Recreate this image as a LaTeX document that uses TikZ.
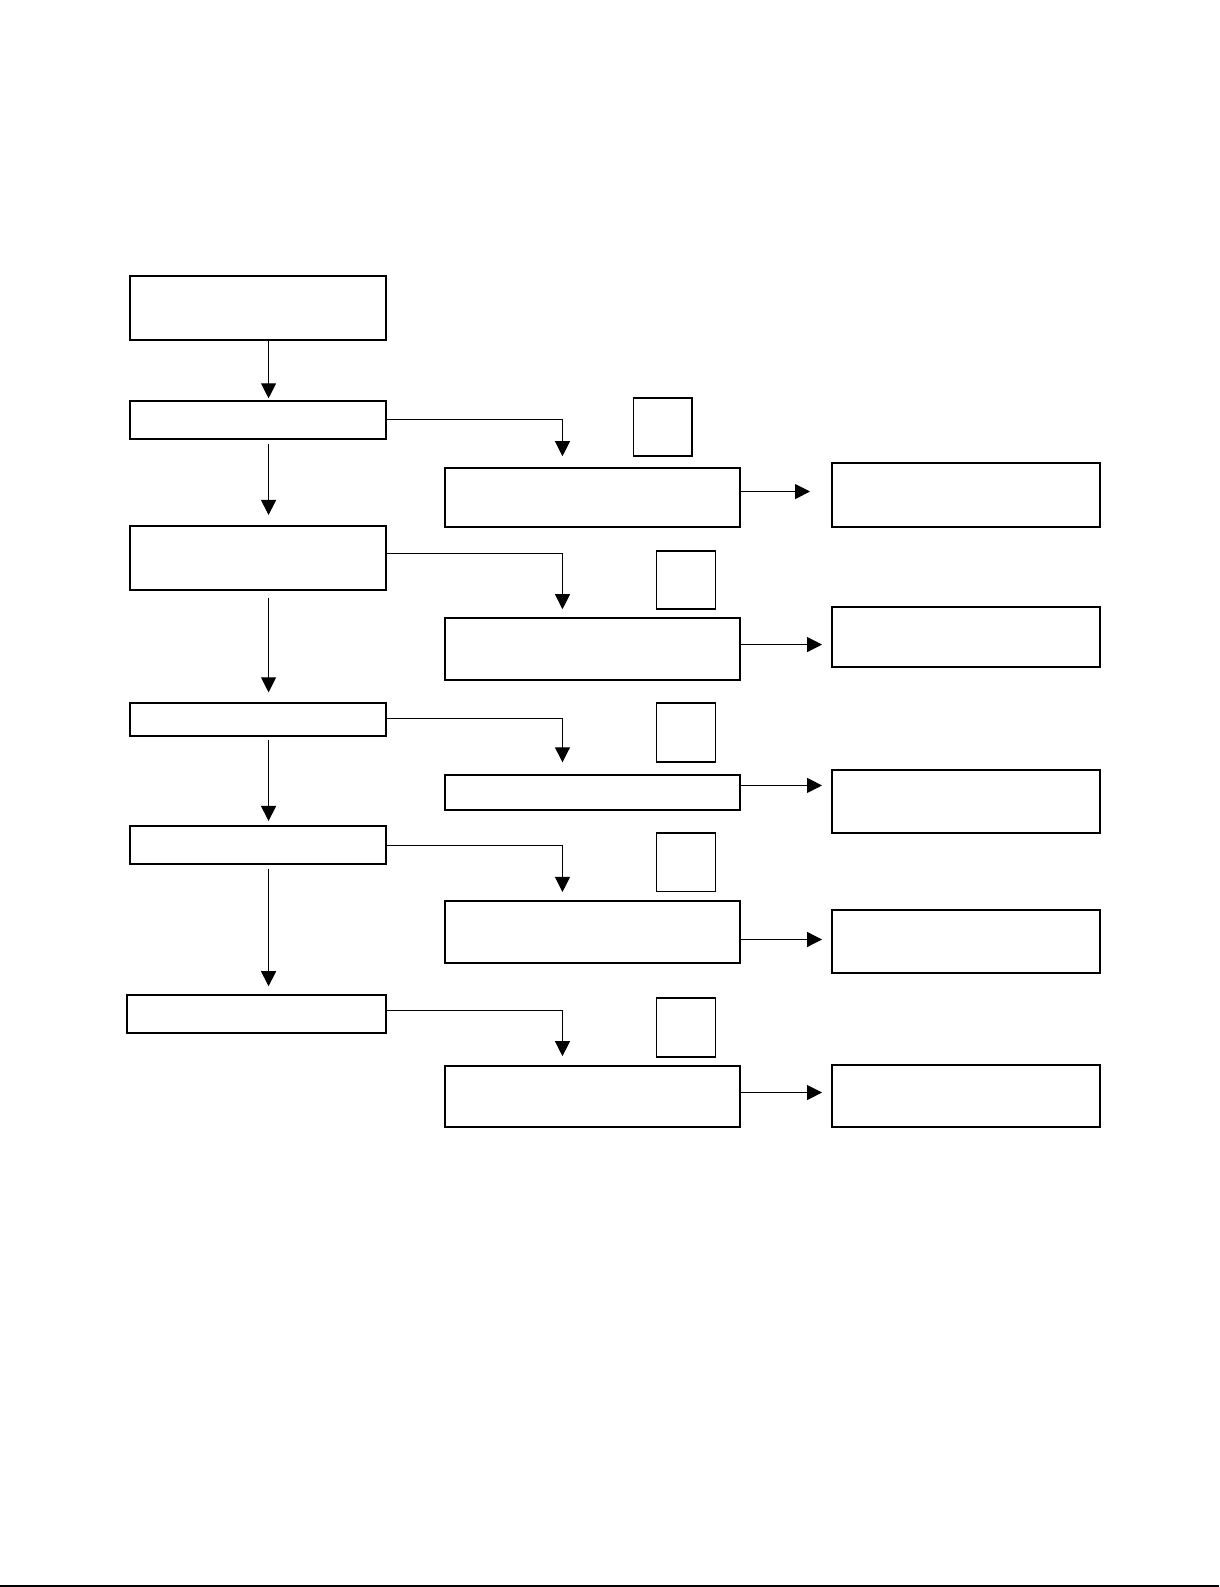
\documentclass[tikz,border=0pt]{standalone}
\usetikzlibrary{arrows.meta}
\tikzset{
  box/.style={draw, line width=2pt, inner sep=0pt, outer sep=0pt, anchor=north west},
  sq/.style={draw, line width=1.5pt, inner sep=0pt, outer sep=0pt, anchor=north west},
  arr/.style={line width=1pt, -{Triangle[length=15pt,width=15pt]}},
}
\begin{document}
\begin{tikzpicture}[x=1pt,y=-1pt]
\useasboundingbox (0,0) rectangle (1219,1587);
\begin{scope}[scale=1.0133, transform shape]
% left column
\node[box, minimum width=253pt, minimum height=64pt] (L1) at (128,272) {};
\node[box, minimum width=253pt, minimum height=37pt] (L2) at (128,396) {};
\node[box, minimum width=253pt, minimum height=63pt] (L3) at (128,519) {};
\node[box, minimum width=253pt, minimum height=32pt] (L4) at (128,694) {};
\node[box, minimum width=253pt, minimum height=38pt] (L5) at (128,815) {};
\node[box, minimum width=256pt, minimum height=37pt] (L6) at (125,982) {};
% middle column
\node[box, minimum width=291pt, minimum height=58pt] (M1) at (439,462) {};
\node[box, minimum width=291pt, minimum height=61pt] (M2) at (439,610) {};
\node[box, minimum width=291pt, minimum height=34pt] (M3) at (439,765) {};
\node[box, minimum width=291pt, minimum height=61pt] (M4) at (439,889) {};
\node[box, minimum width=291pt, minimum height=60pt] (M5) at (439,1052) {};
% small squares
\node[sq, minimum width=58pt, minimum height=57pt] (S1) at (625,393) {};
\node[sq, minimum width=58pt, minimum height=57pt] (S2) at (648,544) {};
\node[sq, minimum width=58pt, minimum height=58pt] (S3) at (648,694) {};
\node[sq, minimum width=58pt, minimum height=58pt] (S4) at (648,822) {};
\node[sq, minimum width=58pt, minimum height=58pt] (S5) at (648,985) {};
% right column
\node[box, minimum width=265pt, minimum height=63pt] (R1) at (821,457) {};
\node[box, minimum width=265pt, minimum height=59pt] (R2) at (821,599) {};
\node[box, minimum width=265pt, minimum height=62pt] (R3) at (821,760) {};
\node[box, minimum width=265pt, minimum height=62pt] (R4) at (821,898) {};
\node[box, minimum width=265pt, minimum height=61pt] (R5) at (821,1051) {};
% vertical arrows
\draw[arr, shorten <=-2pt, shorten >=3pt] ([xshift=10.5pt]L1.south) -- ([xshift=10.5pt]L1.south |- L2.north);
\draw[arr, shorten <=5pt, shorten >=11pt] ([xshift=10.5pt]L2.south) -- ([xshift=10.5pt]L2.south |- L3.north);
\draw[arr, shorten <=8pt, shorten >=11pt] ([xshift=10.5pt]L3.south) -- ([xshift=10.5pt]L3.south |- L4.north);
\draw[arr, shorten <=4pt, shorten >=5pt] ([xshift=10.5pt]L4.south) -- ([xshift=10.5pt]L4.south |- L5.north);
\draw[arr, shorten <=4pt, shorten >=9pt] ([xshift=10.5pt]L5.south) -- ([xshift=10.5pt]L5.south |- L6.north);
% elbow arrows
\draw[arr, shorten >=12pt] ([yshift=0.5pt]L2.east) -| ([xshift=-29.5pt]M1.north);
\draw[arr, shorten >=9pt] ([yshift=4.5pt]L3.east) -| ([xshift=-29.5pt]M2.north);
\draw[arr, shorten >=13pt] ([yshift=1pt]L4.east) -| ([xshift=-29.5pt]M3.north);
\draw[arr, shorten >=9pt] (L5.east) -| ([xshift=-29.5pt]M4.north);
\draw[arr, shorten >=10pt] ([yshift=3.5pt]L6.east) -| ([xshift=-29.5pt]M5.north);
% horizontal arrows
\draw[arr, shorten >=22pt] ([yshift=6pt]M1.east) -- ([yshift=6pt]M1.east -| R1.west);
\draw[arr, shorten >=10pt] ([yshift=4.5pt]M2.east) -- ([yshift=4.5pt]M2.east -| R2.west);
\draw[arr, shorten >=10pt] ([yshift=7pt]M3.east) -- ([yshift=7pt]M3.east -| R3.west);
\draw[arr, shorten >=10pt] ([yshift=-7.5pt]M4.east) -- ([yshift=-7.5pt]M4.east -| R4.west);
\draw[arr, shorten >=10pt] ([yshift=4pt]M5.east) -- ([yshift=4pt]M5.east -| R5.west);
\end{scope}
% bottom rule
\draw[line width=1.5pt] (0,1586) -- (1219,1586);
\end{tikzpicture}
\end{document}
